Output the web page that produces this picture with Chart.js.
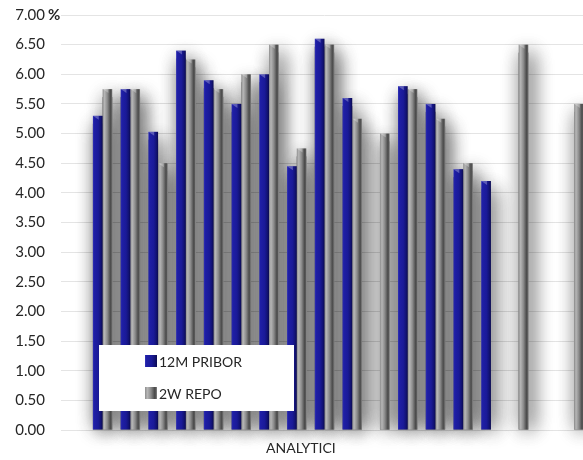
<!DOCTYPE html>
<html lang="en">
  <head>
    <meta charset="utf-8" />
    <title>12M PRIBOR / 2W REPO</title>
    <style>
      html, body { margin: 0; padding: 0; background: #fff; overflow: hidden; }
      #wrap { position: relative; width: 588px; height: 460px; }
    </style>
  </head>
  <body>
    <div id="wrap"><canvas id="myChart"></canvas></div>
    <script src="https://cdn.jsdelivr.net/npm/chart.js@4.4.1/dist/chart.umd.min.js"></script>
    <script>
      // one slot per analyst, first slot left empty
      var analysts = ["", "", "", "", "", "", "", "", "", "", "", "", "", "", "", "", "", "", ""];
      var pribor12m = [null, 5.30, 5.75, 5.03, 6.40, 5.90, 5.50, 6.00, 4.45, 6.60, 5.60, null, 5.80, 5.50, 4.40, 4.20, null, null, null];
      var repo2w = [null, 5.75, 5.75, 4.50, 6.25, 5.75, 6.00, 6.50, 4.75, 6.50, 5.25, 5.00, 5.75, 5.25, 4.50, null, 6.50, null, 5.50];
      var yTicks = [0, 0.5, 1, 1.5, 2, 2.5, 3, 3.5, 4, 4.5, 5, 5.5, 6, 6.5, 7];
      var axisTitle = "ANALYTICI";
      var seriesNames = ["12M PRIBOR", "2W REPO"];

      var stopsBlue = [[0, "#3535b8"], [0.12, "#1f1fa6"], [0.55, "#1a1a98"], [0.8, "#131378"], [1, "#0b0b50"]];
      var stopsGray = [[0, "#8e8e8e"], [0.2, "#b6b6b6"], [0.5, "#8a8a8a"], [0.8, "#4c4c4c"], [0.9, "#575757"], [1, "#8c8c8c"]];

      function barGradient(ctx, left, right, stops) {
        var g = ctx.createLinearGradient(left, 0, right, 0);
        stops.forEach(function (s) { g.addColorStop(s[0], s[1]); });
        return g;
      }

      function barBox(el) {
        var p = el.getProps(["x", "y", "base", "width"], true);
        return { left: p.x - p.width / 2, right: p.x + p.width / 2, top: Math.min(p.y, p.base), bottom: Math.max(p.y, p.base) };
      }

      var cylinderBars = {
        id: "cylinderBars",
        beforeDatasetsDraw: function (chart) {
          // soft shadow under all the bars first (two passes to deepen it)
          var ctx = chart.ctx;
          ctx.save();
          ctx.shadowColor = "rgba(0,0,0,0.45)";
          ctx.shadowBlur = 20;
          ctx.shadowOffsetX = 4;
          for (var pass = 0; pass < 2; pass++) {
            chart.data.datasets.forEach(function (ds, i) {
              chart.getDatasetMeta(i).data.forEach(function (el, j) {
                if (ds.data[j] == null) return;
                var b = barBox(el);
                ctx.fillStyle = "#888";
                ctx.fillRect(b.left, b.top + 8, b.right - b.left, b.bottom - b.top - 8);
              });
            });
          }
          ctx.restore();
        },
        beforeDatasetDraw: function (chart, args) {
          var ctx = chart.ctx;
          var ds = chart.data.datasets[args.index];
          ctx.save();
          args.meta.data.forEach(function (el, j) {
            if (ds.data[j] == null) return;
            var b = barBox(el);
            var w = b.right - b.left;
            ctx.fillStyle = barGradient(ctx, b.left, b.right, ds.stops);
            ctx.fillRect(b.left, b.top, w, b.bottom - b.top);
            // little bevel on the cap
            ctx.fillStyle = "rgba(255,255,255,0.28)";
            ctx.beginPath();
            ctx.moveTo(b.left, b.top);
            ctx.lineTo(b.left + w * 0.6, b.top);
            ctx.lineTo(b.left + w * 0.6, b.top + 4);
            ctx.closePath();
            ctx.fill();
          });
          ctx.restore();
          return false;
        },
        afterDraw: function (chart) {
          var ctx = chart.ctx;
          var area = chart.chartArea;
          ctx.save();
          // percent sign next to the top tick
          ctx.fillStyle = "#262626";
          ctx.font = "bold 15px Lato";
          ctx.textBaseline = "middle";
          ctx.textAlign = "left";
          ctx.fillText("%", 48, chart.scales.y.getPixelForValue(7));

          // axis title
          ctx.font = "14px Lato";
          ctx.fillStyle = "#262626";
          ctx.fillText(axisTitle, 266, area.bottom + 18);

          // legend box over the plot
          var lx = 99, ly = 345, lw = 195, lh = 66;
          ctx.fillStyle = "#fff";
          ctx.fillRect(lx, ly, lw, lh);
          chart.data.datasets.forEach(function (ds, i) {
            var cy = ly + 16 + i * 32;
            ctx.fillStyle = barGradient(ctx, 145, 157, ds.stops);
            ctx.fillRect(145, cy - 6, 12, 12);
            ctx.fillStyle = "#262626";
            ctx.font = "14px Lato";
            ctx.fillText(ds.label, 159, cy + 1);
          });
          ctx.restore();
        }
      };

      function createChart() {
        var ctx = document.getElementById("myChart").getContext("2d");
        window.myBarChart = new Chart(ctx, {
          type: "bar",
          data: {
            labels: analysts,
            datasets: [
              { label: seriesNames[0], data: pribor12m, backgroundColor: "#1a1a98", stops: stopsBlue },
              { label: seriesNames[1], data: repo2w, backgroundColor: "#8a8a8a", stops: stopsGray }
            ]
          },
          options: {
            responsive: true,
            maintainAspectRatio: false,
            animation: false,
            layout: { padding: { top: 15, bottom: 30, left: 0, right: 0 } },
            datasets: { bar: { categoryPercentage: 0.7, barPercentage: 1.0 } },
            plugins: { legend: { display: false }, tooltip: { enabled: false } },
            scales: {
              x: { display: false, grid: { display: false } },
              y: {
                min: 0,
                max: 7,
                afterFit: function (scale) {
                  scale.width = 61;
                  scale.paddingTop = 0;
                  scale.paddingBottom = 0;
                },
                afterBuildTicks: function (scale) {
                  scale.ticks = yTicks.map(function (v) { return { value: v }; });
                },
                border: { display: false },
                grid: { color: "#e4e4e4", drawTicks: false },
                ticks: {
                  padding: 16,
                  color: "#262626",
                  font: { family: "Lato", size: 15 },
                  callback: function (v) { return Number(v).toFixed(2); }
                }
              }
            }
          },
          plugins: [cylinderBars]
        });
      }

      createChart();
    </script>
  </body>
</html>
